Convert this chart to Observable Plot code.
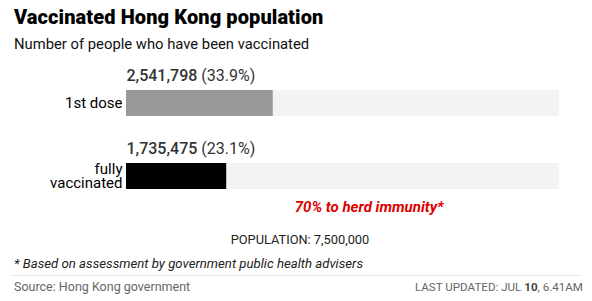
<!DOCTYPE html>
<html>
<head>
<meta charset="utf-8">
<script src="https://cdn.jsdelivr.net/npm/d3@7"></script>
<script src="https://cdn.jsdelivr.net/npm/@observablehq/plot@0.6"></script>
<style>
  body { margin: 0; width: 592px; height: 301px; overflow: hidden; font-family: Roboto, sans-serif; background: #fff; }
  #title { position: absolute; left: 14px; top: 5px; font-size: 20px; font-weight: 900; color: #000; letter-spacing: 0.1px; }
  #subtitle { position: absolute; left: 14px; top: 35px; font-size: 14.8px; color: #111; }
  #chart { position: absolute; left: 0; top: 58px; }
  #pop { position: absolute; left: 4px; width: 592px; top: 232px; text-align: center; font-size: 12.8px; color: #222; }
  #note { position: absolute; left: 14px; top: 256px; font-size: 13.2px; font-style: italic; color: #222; }
  #rule { position: absolute; left: 12px; width: 568px; top: 275px; border-top: 1px solid #e6e6e6; }
  #source { position: absolute; left: 14px; top: 279px; font-size: 12.5px; color: #666; }
  #updated { position: absolute; right: 9px; top: 280px; font-size: 11.6px; color: #666; }
</style>
</head>
<body>
<div id="title">Vaccinated Hong Kong population</div>
<div id="subtitle">Number of people who have been vaccinated</div>
<div id="chart"></div>
<div id="pop"></div>
<div id="note">* Based on assessment by government public health advisers</div>
<div id="rule"></div>
<div id="source">Source: Hong Kong government</div>
<div id="updated">LAST UPDATED: JUL <b style="color:#444">10</b>, 6.41AM</div>
<script>
const categories = ["1st dose", "fully vaccinated"];
const vaccinated = [2541798, 1735475];
const population = 7500000;
const herdShare = 0.7;
const colors = ["#999999", "#000000"];
const tickLabels = {"1st dose": "1st dose", "fully vaccinated": "fully\nvaccinated"};

const data = categories.map((c, i) => ({
  category: c,
  value: vaccinated[i],
  pct: vaccinated[i] / population,
  color: colors[i],
  label: `${d3.format(",")(vaccinated[i])}|(${d3.format(".1%")(vaccinated[i] / population)})`
}));
const bg = categories.map(c => ({category: c, value: population}));
const herd = [{category: categories[1], value: population * herdShare}];

const chart = Plot.plot({
  width: 592,
  height: 160,
  marginLeft: 126,
  marginRight: 33,
  marginTop: 31,
  marginBottom: 29,
  style: {fontFamily: "Roboto, sans-serif", background: "transparent"},
  x: {domain: [0, population], axis: null},
  y: {domain: categories, paddingInner: 0.645, paddingOuter: 0, label: null},
  marks: [
    Plot.axisY({tickSize: 0, tickPadding: 4, fontSize: 15, lineHeight: 0.95, tickFormat: d => tickLabels[d], color: "#000", label: null}),
    Plot.barX(bg, {x: "value", y: "category", fill: "#f3f3f3"}),
    Plot.barX(data, {x: "value", y: "category", fill: "color"}),
    Plot.ruleX(herd, {x: "value", y: "category", stroke: "#c00000", strokeWidth: 1, strokeDasharray: "2,2"}),
    Plot.text(data, {x: 0, y: "category", text: "label", textAnchor: "start", dy: -26, className: "vlabel", fill: "#333"}),
    Plot.text(herd, {x: "value", y: "category", text: d => `${Math.round(herdShare * 100)}% to herd immunity*`, textAnchor: "end", dx: 14, dy: 31, fill: "#dd0000", fontSize: 15, fontStyle: "italic", fontWeight: "bold"})
  ]
});
document.getElementById("chart").appendChild(chart);
document.getElementById("pop").textContent = `POPULATION: ${d3.format(",")(population)}`;

d3.select(chart).selectAll("g.vlabel text").each(function() {
  const t = d3.select(this);
  const [num, pct] = t.text().split("|");
  t.text(null);
  t.append("tspan").attr("font-size", 16).attr("font-weight", 500).text(num + " ");
  t.append("tspan").attr("font-size", 16).attr("font-weight", 400).text(pct);
});
</script>
</body>
</html>
